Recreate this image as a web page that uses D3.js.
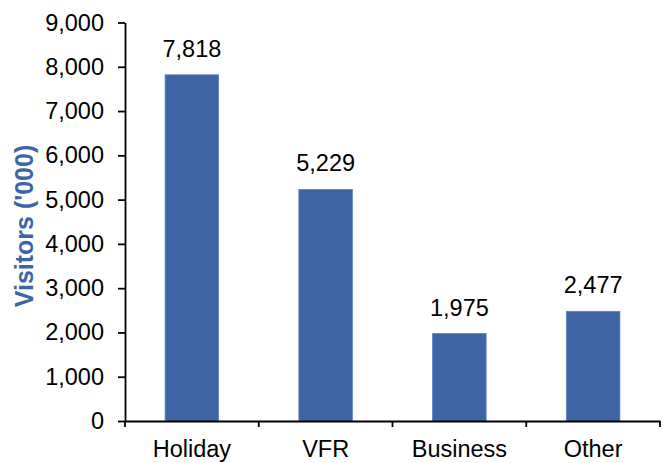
<!DOCTYPE html>
<html>
<head>
<meta charset="utf-8">
<script src="https://cdn.jsdelivr.net/npm/d3@7"></script>
<style>
  body { margin: 0; background: #fff; }
  svg text { font-family: "Liberation Sans", Arial, sans-serif; fill: #000; }
</style>
</head>
<body>
<svg id="chart" width="668" height="463"></svg>
<script>
const categories = ['Holiday', 'VFR', 'Business', 'Other'];
const visitors = [7818, 5229, 1975, 2477];
const yTicks = [0, 1000, 2000, 3000, 4000, 5000, 6000, 7000, 8000, 9000];

const svg = d3.select('#chart');
const plot = { left: 125, right: 660, top: 22.5, bottom: 421 };
const fontSize = 23.5;

const x = d3.scaleBand().domain(categories).range([plot.left, plot.right]);
const y = d3.scaleLinear().domain([0, 9000]).range([plot.bottom, plot.top]);
const fmt = d3.format(',');

// bars, 40% of the category width
const barW = x.bandwidth() * 0.4;
svg.append('g').selectAll('rect')
  .data(visitors)
  .join('rect')
  .attr('x', (d, i) => x(categories[i]) + (x.bandwidth() - barW) / 2)
  .attr('y', d => y(d))
  .attr('width', barW)
  .attr('height', d => y(0) - y(d))
  .attr('fill', '#3e64a3')
  .attr('stroke', '#5b7fbf')
  .attr('stroke-width', 0.8);

// value labels
svg.append('g').selectAll('text')
  .data(visitors)
  .join('text')
  .attr('x', (d, i) => x(categories[i]) + x.bandwidth() / 2)
  .attr('y', d => y(d) - 18)
  .attr('text-anchor', 'middle')
  .style('font-size', fontSize + 'px')
  .text(d => fmt(d));

// y axis
const yAxis = svg.append('g')
  .attr('transform', `translate(${plot.left},0)`)
  .call(d3.axisLeft(y).tickValues(yTicks).tickFormat(fmt).tickSize(7).tickPadding(14).tickSizeOuter(0));
yAxis.select('.domain').attr('stroke', '#000').attr('stroke-width', 1.8);
yAxis.selectAll('.tick line').attr('stroke', '#000').attr('stroke-width', 1.8);
yAxis.selectAll('.tick text').style('font-size', fontSize + 'px').attr('font-family', null);

// x axis: labels at category centres, tick marks at category boundaries
const xAxis = svg.append('g')
  .attr('transform', `translate(0,${plot.bottom})`)
  .call(d3.axisBottom(x).tickSize(0).tickPadding(19));
xAxis.select('.domain').attr('stroke', '#000').attr('stroke-width', 1.8);
xAxis.selectAll('.tick text').style('font-size', fontSize + 'px').attr('font-family', null);

const edges = categories.map(c => x(c)).concat([x.range()[1]]);
xAxis.append('g').selectAll('line')
  .data(edges)
  .join('line')
  .attr('x1', d => d).attr('x2', d => d)
  .attr('y1', 0).attr('y2', 6)
  .attr('stroke', '#000')
  .attr('stroke-width', 1.8);

// y axis title
svg.append('text')
  .attr('transform', `translate(33,226) rotate(-90)`)
  .attr('text-anchor', 'middle')
  .style('font-size', '25px')
  .style('font-weight', 'bold')
  .style('fill', '#3e64a8')
  .text("Visitors ('000)");
</script>
</body>
</html>
